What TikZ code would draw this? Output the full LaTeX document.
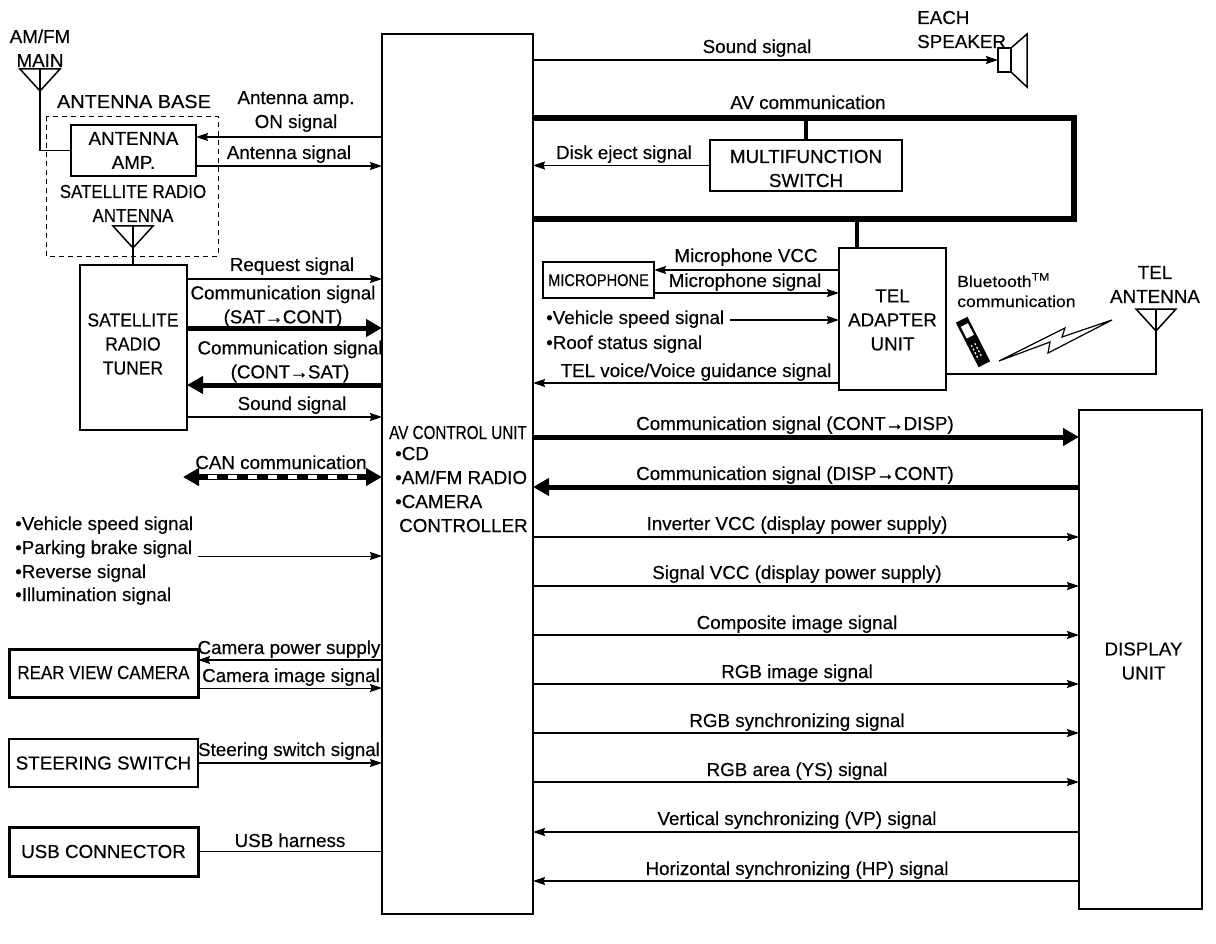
\documentclass[tikz,border=0pt]{standalone}
\usepackage{fontspec}
\setmainfont[FakeBold=0.35]{Liberation Sans}
\usetikzlibrary{arrows.meta}

\tikzset{
  box/.style={draw, line width=1.5pt, inner sep=0pt, outer sep=0pt, align=center},
  heavy/.style={box, line width=3pt},
  lab/.style={inner sep=0pt, text height=14pt, text depth=2pt},
  two/.style={inner sep=0pt, align=center},
  left lab/.style={lab, anchor=west},
  wire/.style={line width=1.5pt},
  sig/.style={wire, -{Stealth[length=12pt,width=8pt,inset=1.5pt]}},
  fat/.style={line width=5pt, -{Stealth[length=16pt,width=17pt,inset=0pt]}},
  rfat/.style={line width=5pt, {Stealth[length=16pt,width=17pt,inset=0pt]}-},
  bus/.style={line width=6pt, miter limit=10},
  aerial/.pic={
    \draw[line width=1.5pt, line join=miter] (-20,0) -- (20,0) -- (0,22) -- cycle;
    \draw[line width=1.5pt] (0,0) -- (0,22);
    \coordinate (-tip) at (0,22);
  }
}

\begin{document}
\begin{tikzpicture}[x=1pt, y=-1pt, font=\fontsize{18.8}{24}\selectfont]

    \useasboundingbox (0,0) rectangle (1216,944);

    % Main units
    \node[box, line width=2pt, minimum width=151pt, minimum height=880pt] (av) at (457.5,474) {};
    \node[box, minimum width=123pt, minimum height=499pt] (disp) at (1140.5,659.5) {};
    \node[two] (disptext) at (1143.5,661) {DISPLAY\\UNIT};
    \node[box, minimum width=107pt, minimum height=142pt] (tel) at (892.5,319) {};
    \node[two] (teltext) at (892.5,320) {TEL\\ADAPTER\\UNIT};
    \node[box, line width=1.2pt, minimum width=192pt, minimum height=51pt] (mfs) at (806,165.5) {};
    \node[two] (mfstext) at (806,168.5) {MULTIFUNCTION\\SWITCH};
    \node[box, line width=1.2pt, minimum width=111pt, minimum height=36pt] (mic) at (598.5,280) {};
    \node[lab, xscale=.86, font=\fontsize{17}{24}\selectfont] (mictext) at (mic) {MICROPHONE};

    % AV unit text
    \node[lab, xscale=.81] (avname) at (458,433) {AV CONTROL UNIT};
    \node[left lab] (avcd) at (395,454) {•CD};
    \node[left lab] (avradio) at (395,478) {•AM/FM RADIO};
    \node[left lab] (avcam) at (395,502) {•CAMERA};
    \node[left lab] (avctrl) at (399,526) {CONTROLLER};

    % Antennas and tuner
    \node[lab] (amfm) at (40,37) {AM/FM};
    \node[lab] (mainant) at (40,61) {MAIN};
    \pic (main) at (40,69) {aerial};
    \node[lab, xscale=1.06] (basename) at (134,102) {ANTENNA BASE};
    \draw[dashed, line width=.9pt, dash pattern=on 5pt off 4pt] (46,116) rectangle (218,256);
    \node[box, minimum width=125pt, minimum height=51pt] (amp) at (133.5,150.5) {ANTENNA\\AMP.};
    \node[lab, xscale=.9] (satant) at (133,192) {SATELLITE RADIO};
    \node[lab, xscale=.9] (satant2) at (133,216) {ANTENNA};
    \pic (sat) at (133,226) {aerial};
    \node[box, minimum width=107pt, minimum height=165pt] (tuner) at (133.5,347.5) {};
    \node[two, xscale=.93] (tunertext) at (133,344) {SATELLITE\\RADIO\\TUNER};
    \draw[wire] (main-tip) |- (amp.west);
    \draw[wire] (sat-tip) -- (sat-tip |- tuner.north);

    % Left side signals
    \node[two] (ampon) at (296,111.5) {Antenna amp.\\ON signal};
    \draw[sig] (av.west |- 0,137) -- (amp.east |- 0,137);
    \node[lab] (antsig) at (289,153) {Antenna signal};
    \draw[sig] (amp.east |- 0,166) -- (av.west |- 0,166);
    \node[lab] (request) at (292,265) {Request signal};
    \draw[sig] (tuner.east |- 0,279) -- (av.west |- 0,279);
    \node[two] (comsat) at (283,306.5) {Communication signal\\(SAT{\kern-.5pt}→{\kern-.5pt}CONT)};
    \draw[fat] (tuner.east |- 0,328) -- (av.west |- 0,328);
    \node[two] (comcont) at (290,361.5) {Communication signal\\(CONT{\kern-.5pt}→{\kern-.5pt}SAT)};
    \draw[rfat] (tuner.east |- 0,385) -- (av.west |- 0,385);
    \node[lab] (soundl) at (292,404) {Sound signal};
    \draw[sig] (tuner.east |- 0,417) -- (av.west |- 0,417);

    % CAN line
    \coordinate (canend) at (183,477);
    \coordinate (canw) at (208,477);
    \coordinate (cane) at (357,477);
    \node[lab] (can) at (281,463) {CAN communication};
    \draw[line width=6.5pt, {Stealth[length=16pt,width=17pt,inset=0pt]}-{Stealth[length=16pt,width=17pt,inset=0pt]}] (canend) -- (av.west |- canend);
    \draw[white, line width=4pt, dash pattern=on 9pt off 11pt] (canw) -- (cane);

    % Signal list
    \node[left lab] (vsp) at (15,524) {•Vehicle speed signal};
    \node[left lab] (pkb) at (15,548) {•Parking brake signal};
    \node[left lab] (rev) at (15,572) {•Reverse signal};
    \node[left lab] (ill) at (15,595) {•Illumination signal};
    \coordinate (listend) at (198,556);
    \draw[sig, line width=1pt] (listend) -- (av.west |- listend);

    % Lower left units
    \node[heavy, minimum width=189pt, minimum height=48pt] (cam) at (103.5,673) {};
    \node[lab, xscale=.9] (camtext) at (cam) {REAR VIEW CAMERA};
    \node[box, line width=1.2pt, minimum width=189pt, minimum height=48pt] (steer) at (103.5,763) {STEERING SWITCH};
    \node[heavy, minimum width=189pt, minimum height=49pt] (usb) at (103.5,851.5) {USB CONNECTOR};
    \node[lab] (campow) at (289,648) {Camera power supply};
    \draw[sig] (av.west |- 0,660) -- (cam.east |- 0,660);
    \node[lab] (camimg) at (291,676) {Camera image signal};
    \draw[sig, line width=1pt] (cam.east |- 0,688) -- (av.west |- 0,688);
    \node[lab] (steersig) at (289,750) {Steering switch signal};
    \draw[sig] (steer.east) -- (av.west |- steer.east);
    \node[lab] (usbh) at (290,841) {USB harness};
    \draw[line width=1pt] (usb.east) -- (av.west |- usb.east);

    % Speaker
    \node[lab, anchor=west] (each) at (917,18) {EACH};
    \node[lab, anchor=west] (spk) at (917,42) {SPEAKER};
    \node[box, line width=1.2pt, fill=white, minimum width=13pt, minimum height=24pt] (spkbox) at (1004.5,60) {};
    \coordinate (coneup) at (1027,34);
    \coordinate (conedn) at (1027,87);
    \draw[line width=1.5pt] (spkbox.north east) -- (coneup) -- (conedn) -- (spkbox.south east);
    \node[lab] (soundr) at (757,47) {Sound signal};
    \draw[sig] (av.east |- spkbox.west) -- (spkbox.west);

    % AV communication
    \node[lab] (avcom) at (808,103) {AV communication};
    \coordinate (busne) at (1074,118);
    \coordinate (busse) at (1074,219);
    \draw[bus] (av.east |- busne) -- (busne) -- (busse) -- (av.east |- busse);
    \draw[line width=4pt] (mfs.north |- busne) -- (mfs.north);
    \draw[line width=4pt] (tel.north -| 857,0) -- (busse -| 857,0);
    \node[lab] (eject) at (624,153) {Disk eject signal};
    \draw[sig] (mfs.west) -- (av.east |- mfs.west);

    % Telephone
    \node[lab] (micvcc) at (746,256) {Microphone VCC};
    \draw[sig] (tel.west |- 0,270) -- (mic.east |- 0,270);
    \node[lab] (micsig) at (745,281) {Microphone signal};
    \draw[sig] (mic.east |- 0,293) -- (tel.west |- 0,293);
    \node[left lab] (vsp2) at (546,318) {•Vehicle speed signal};
    \coordinate (vspend) at (730,320);
    \draw[sig] (vspend) -- (tel.west |- vspend);
    \node[left lab] (roof) at (546,343) {•Roof status signal};
    \node[lab] (telvoice) at (696,371) {TEL voice/Voice guidance signal};
    \draw[sig] (tel.west |- 0,383) -- (av.east |- 0,383);
    \node[left lab, xscale=1.1, font=\fontsize{16}{20}\selectfont] (bt) at (957,281) {Bluetooth\textsuperscript{TM}};
    \node[left lab, xscale=1.1, font=\fontsize{16}{20}\selectfont] (btcom) at (957,301) {communication};
    \node[two] (telant) at (1155,284.5) {TEL\\ANTENNA};
    \pic (telaerial) at (1156,309) {aerial};
    \draw[wire] (telaerial-tip) |- (tel.east |- 0,374);

    % Phone and radio link
    \begin{scope}[shift={(973,342)}, rotate=27]
      \fill (-6.5,-25) rectangle (6.5,25);
      \fill[white] (-4,-19) rectangle (4,-6);
      \draw[white, line width=1.2pt, dash pattern=on 2pt off 2pt] (-3,2) -- (-3,18);
      \draw[white, line width=1.2pt, dash pattern=on 2pt off 2pt] (1,2) -- (1,18);
    \end{scope}
    \coordinate (bolt) at (999,361);
    \draw[line width=1.2pt, fill=white] (bolt) -- (1050,342) -- (1048,353) -- (1112,320) -- (1062,337) -- (1065,328) -- cycle;

    % Right side signals
    \node[lab] (comdisp) at (795,424) {Communication signal (CONT{\kern-.5pt}→{\kern-.5pt}DISP)};
    \draw[fat] (av.east |- 0,437) -- (disp.west |- 0,437);
    \node[lab] (comdc) at (795,474) {Communication signal (DISP{\kern-.5pt}→{\kern-.5pt}CONT)};
    \draw[rfat] (av.east |- 0,487) -- (disp.west |- 0,487);
    \node[lab] (invvcc) at (797,524) {Inverter VCC (display power supply)};
    \draw[sig] (av.east |- 0,537) -- (disp.west |- 0,537);
    \node[lab] (sigvcc) at (797,573) {Signal VCC (display power supply)};
    \draw[sig] (av.east |- 0,586) -- (disp.west |- 0,586);
    \node[lab] (compo) at (797,623) {Composite image signal};
    \draw[sig] (av.east |- 0,635) -- (disp.west |- 0,635);
    \node[lab] (rgbimg) at (797,672) {RGB image signal};
    \draw[sig] (av.east |- 0,684) -- (disp.west |- 0,684);
    \node[lab] (rgbsync) at (797,721) {RGB synchronizing signal};
    \draw[sig] (av.east |- 0,733) -- (disp.west |- 0,733);
    \node[lab] (rgbarea) at (797,770) {RGB area (YS) signal};
    \draw[sig] (av.east |- 0,782) -- (disp.west |- 0,782);
    \node[lab] (vp) at (797,819) {Vertical synchronizing (VP) signal};
    \draw[sig] (disp.west |- 0,832) -- (av.east |- 0,832);
    \node[lab] (hp) at (797,869) {Horizontal synchronizing (HP) signal};
    \draw[sig] (disp.west |- 0,881) -- (av.east |- 0,881);

\end{tikzpicture}
\end{document}
